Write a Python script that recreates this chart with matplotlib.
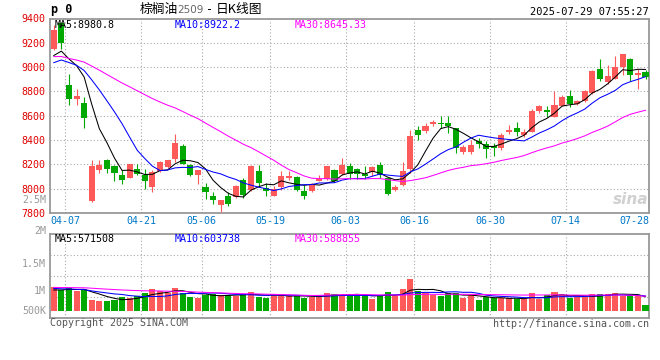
import matplotlib
matplotlib.use('Agg')
import matplotlib.pyplot as plt
import matplotlib.transforms as mtransforms

# trading days shown on the chart
dates = ['04-02', '04-03', '04-07', '04-08', '04-09', '04-10', '04-11', '04-14', '04-15', '04-16',
         '04-17', '04-18', '04-21', '04-22', '04-23', '04-24', '04-25', '04-28', '04-29', '04-30',
         '05-06', '05-07', '05-08', '05-09', '05-12', '05-13', '05-14', '05-15', '05-16', '05-19',
         '05-20', '05-21', '05-22', '05-23', '05-26', '05-27', '05-28', '05-29', '05-30',
         '06-03', '06-04', '06-05', '06-06', '06-09', '06-10', '06-11', '06-12', '06-13', '06-16',
         '06-17', '06-18', '06-19', '06-20', '06-23', '06-24', '06-25', '06-26', '06-27', '06-30',
         '07-01', '07-02', '07-03', '07-04', '07-07', '07-08', '07-09', '07-10', '07-11', '07-14',
         '07-15', '07-16', '07-17', '07-18', '07-21', '07-22', '07-23', '07-24', '07-25', '07-28']

opens = [9150, 9362, 8850, 8741, 8708, 7896, 8150, 8237, 8188, 8112,
         8090, 8163, 8112, 8016, 8147, 8180, 8245, 8352, 8196, 8114,
         8016, 7943, 7869, 7943, 7929, 8068, 7986, 8147, 8008, 7937,
         8016, 8090, 8095, 7984, 7978, 8065, 8079, 8155, 8120,
         8188, 8163, 8120, 8134, 8196, 8087, 7986, 8027, 8161, 8482,
         8474, 8529, 8542, 8542, 8496, 8305, 8305, 8392, 8365, 8352,
         8332, 8469, 8496, 8441, 8469, 8638, 8651, 8591, 8681, 8760,
         8700, 8719, 8790, 8981, 8877, 8905, 9000, 9063, 8937, 8959]
highs = [9345, 9370, 8946, 8817, 8752, 8232, 8232, 8245, 8196, 8155,
         8204, 8204, 8163, 8155, 8225, 8237, 8452, 8368, 8207, 8155,
         8046, 7970, 7910, 7970, 8033, 8087, 8196, 8196, 8046, 8019,
         8147, 8147, 8101, 8030, 8046, 8114, 8190, 8163, 8250,
         8210, 8169, 8183, 8190, 8223, 8095, 8033, 8223, 8482, 8515,
         8537, 8561, 8597, 8597, 8501, 8360, 8398, 8414, 8392, 8379,
         8460, 8523, 8550, 8488, 8659, 8692, 8681, 8801, 8768, 8809,
         8728, 8809, 8973, 9068, 9014, 9090, 9104, 9074, 8981, 8973]
lows = [9140, 9150, 8692, 8692, 8501, 7888, 8130, 8130, 8060, 8041,
        8085, 8114, 8000, 7970, 8136, 8174, 8223, 8202, 8101, 8041,
        7918, 7875, 7807, 7856, 7924, 7924, 7978, 8016, 7937, 7937,
        7992, 8071, 7978, 7918, 7973, 8060, 8074, 8057, 8114,
        8082, 8082, 8082, 8101, 8087, 7951, 7978, 8025, 8128, 8400,
        8455, 8518, 8496, 8455, 8297, 8283, 8289, 8332, 8251, 8272,
        8319, 8447, 8436, 8428, 8463, 8619, 8589, 8586, 8678, 8673,
        8687, 8714, 8782, 8888, 8864, 8899, 8932, 8888, 8817, 8905]
closes = [9308, 9199, 8741, 8763, 8583, 8188, 8196, 8166, 8125, 8074,
          8204, 8120, 8060, 8136, 8223, 8232, 8373, 8207, 8114, 8150,
          7970, 7905, 7910, 7875, 8025, 7945, 8188, 8044, 7984, 8000,
          8106, 8106, 7986, 7943, 8038, 8076, 8188, 8065, 8196,
          8120, 8123, 8101, 8180, 8114, 7959, 8011, 8142, 8436, 8441,
          8515, 8545, 8534, 8518, 8332, 8346, 8360, 8371, 8324, 8338,
          8441, 8482, 8469, 8469, 8643, 8681, 8629, 8687, 8755, 8700,
          8719, 8801, 8967, 8899, 8924, 9000, 9104, 8932, 8951, 8918]
volumes = [944000, 838000, 903000, 810000, 838000, 433000, 393000, 405000, 433000, 567000,
           498000, 608000, 729000, 879000, 798000, 701000, 932000, 729000, 567000, 527000,
           636000, 660000, 636000, 636000, 595000, 676000, 770000, 567000, 527000, 636000,
           636000, 595000, 595000, 527000, 567000, 567000, 729000, 676000, 636000,
           636000, 636000, 636000, 474000, 636000, 757000, 595000, 879000, 1284000, 810000,
           701000, 636000, 595000, 701000, 701000, 527000, 636000, 433000, 539000, 498000,
           527000, 498000, 458000, 458000, 729000, 474000, 636000, 770000, 636000, 498000,
           539000, 567000, 676000, 676000, 676000, 729000, 595000, 636000, 636000, 231000]

# closes / volumes before 04-02, needed for the moving averages
pre_close = [9180, 9220, 9150, 9100, 9160, 9200, 9240, 9180, 9120, 9150,
             9080, 9040, 9100, 9060, 9020, 9050, 9090, 9030, 9000, 9060,
             8980, 8950, 8990, 9010, 8960, 9020, 9060, 9040, 9050]
pre_vol = [980000, 950000, 1000000, 920000, 960000, 990000, 940000, 970000, 1010000, 930000,
           950000, 990000, 960000, 940000, 980000, 1000000, 950000, 930000, 970000, 960000,
           1000000, 950000, 980000, 940000, 970000, 820000, 800000, 830000, 796000]

label_dates = ['04-07', '04-21', '05-06', '05-19', '06-03', '06-16', '06-30', '07-14', '07-28']
price_ticks = [7800, 8000, 8200, 8400, 8600, 8800, 9000, 9200, 9400]
price_ma_text = ['MA5:8980.8', 'MA10:8922.2', 'MA30:8645.33']
vol_ma_text = ['MA5:571508', 'MA10:603738', 'MA30:588855']
vol_labels = ['2M', '1.5M', '1M', '500K']


def moving_avg(pre, data, n):
    full = pre + data
    k = len(pre)
    return [sum(full[k + i - n + 1:k + i + 1]) / n for i in range(len(data))]


W, H = 660, 360
UP, DOWN = '#ff5a5a', '#00a800'
MA_COLORS = ['#000000', '#0000ff', '#ff00ff']
MONO = 'DejaVu Sans Mono'
FS = 7.2

fig = plt.figure(figsize=(6.6, 3.6), dpi=100)
ax = fig.add_axes([50 / W, 1 - 213 / H, 599.3 / W, 194.5 / H])
axv = fig.add_axes([50 / W, 1 - 318.3 / H, 599.3 / W, 84 / H])

n = len(dates)
x = list(range(n))
colors = [UP if c >= o else DOWN for o, c in zip(opens, closes)]

# candles
ax.vlines(x, lows, highs, colors=colors, lw=0.8, zorder=3)
bodies = [max(abs(c - o), 5) for o, c in zip(opens, closes)]
ax.bar(x, bodies, bottom=[min(o, c) for o, c in zip(opens, closes)],
       width=0.8, color=colors, linewidth=0, zorder=3)

for p, col in zip((5, 10, 30), MA_COLORS):
    ax.plot(x, moving_avg(pre_close, closes, p), color=col, lw=0.75, zorder=4)

ax.set_xlim(-0.5, n - 0.5)
ax.set_ylim(7800, 9400)
ax.set_yticks(price_ticks)
ax.set_yticklabels([str(t) for t in price_ticks], family=MONO, fontsize=FS, color='#e00000')
ax.tick_params(axis='y', length=0, pad=3)
ax.set_xticks([])
ax.grid(False)
for t in price_ticks[1:-1]:
    ax.axhline(t, color='#aaaaaa', lw=0.8, ls=(0, (1, 2)), zorder=1)

# volume bars
axv.bar(x, volumes, width=0.8, color=colors, linewidth=0, zorder=3)
for p, col in zip((5, 10, 30), MA_COLORS):
    axv.plot(x, moving_avg(pre_vol, volumes, p), color=col, lw=0.75, zorder=4)
axv.set_xlim(-0.5, n - 0.5)
axv.set_ylim(-308000, 3094000)
axv.set_xticks([])
axv.set_yticks([])
for f in (0.25, 0.5, 0.75):
    axv.plot([0, 1], [f, f], transform=axv.transAxes, color='#aaaaaa', lw=0.8, ls=(0, (1, 2)), zorder=1)

# date gridlines and labels
trans = mtransforms.blended_transform_factory(ax.transData, ax.transAxes)
for d in label_dates:
    pos = dates.index(d) - 0.5
    if pos + 2.2 > n - 0.5:
        ax.text(n - 0.5, -0.041, d, transform=trans, ha='right', va='center',
                family=MONO, fontsize=FS, color='#0078c8')
        continue
    for a in (ax, axv):
        a.axvline(pos, color='#aaaaaa', lw=0.8, ls=(0, (1, 2)), zorder=1)
    ax.text(pos, -0.041, d, transform=trans, ha='center', va='center',
            family=MONO, fontsize=FS, color='#0078c8')

for a in (ax, axv):
    for s in a.spines.values():
        s.set_color('#999999')
        s.set_linewidth(1.3)

# legends
for txt, col, px in zip(price_ma_text, MA_COLORS, (55, 175, 295)):
    fig.text(px / W, 1 - 24.5 / H, txt, color=col, family=MONO, fontsize=FS, va='center')
for txt, col, px in zip(vol_ma_text, MA_COLORS, (55, 175, 295)):
    fig.text(px / W, 1 - 238.5 / H, txt, color=col, family=MONO, fontsize=FS, va='center')

# volume axis labels
for txt, py in zip(vol_labels, (231, 264, 291, 311)):
    fig.text(46 / W, 1 - py / H, txt, ha='right', va='center', family=MONO, fontsize=FS, color='#999999')
fig.text(46 / W, 1 - 200 / H, '2.5M', ha='right', va='center', family=MONO, fontsize=FS, color='#999999')

# header
fig.text(51 / W, 1 - 10 / H, 'p 0', family=MONO, fontsize=8.5, weight='bold', va='center')
fig.text(140 / W, 1 - 9.5 / H, '棕榈油', family=['Noto Sans CJK SC'], fontsize=9.2, va='center')
fig.text(177 / W, 1 - 10 / H, '2509', family='DejaVu Sans', fontsize=7.5, color='#666666', va='center')
fig.text(206 / W, 1 - 9.5 / H, '-', family=MONO, fontsize=8.5, va='center')
fig.text(216 / W, 1 - 9.5 / H, '日K线图', family=['Noto Sans CJK SC'], fontsize=9.2, va='center')
fig.text(649 / W, 1 - 12 / H, '2025-07-29 07:55:27', family=MONO, fontsize=FS + 0.3, ha='right', va='center')

# footer
fig.text(50 / W, 1 - 323.5 / H, 'Copyright 2025 SINA.COM', family=MONO, fontsize=FS, color='#555555', va='center')
fig.text(649 / W, 1 - 324 / H, 'http://finance.sina.com.cn', family=MONO, fontsize=FS, color='#555555',
         ha='right', va='center')
fig.text(648 / W, 1 - 200 / H, 'sina', fontsize=11, style='italic', weight='bold', color='#d0d0d0',
         ha='right', va='center')

fig.savefig('out.png', dpi=100)
